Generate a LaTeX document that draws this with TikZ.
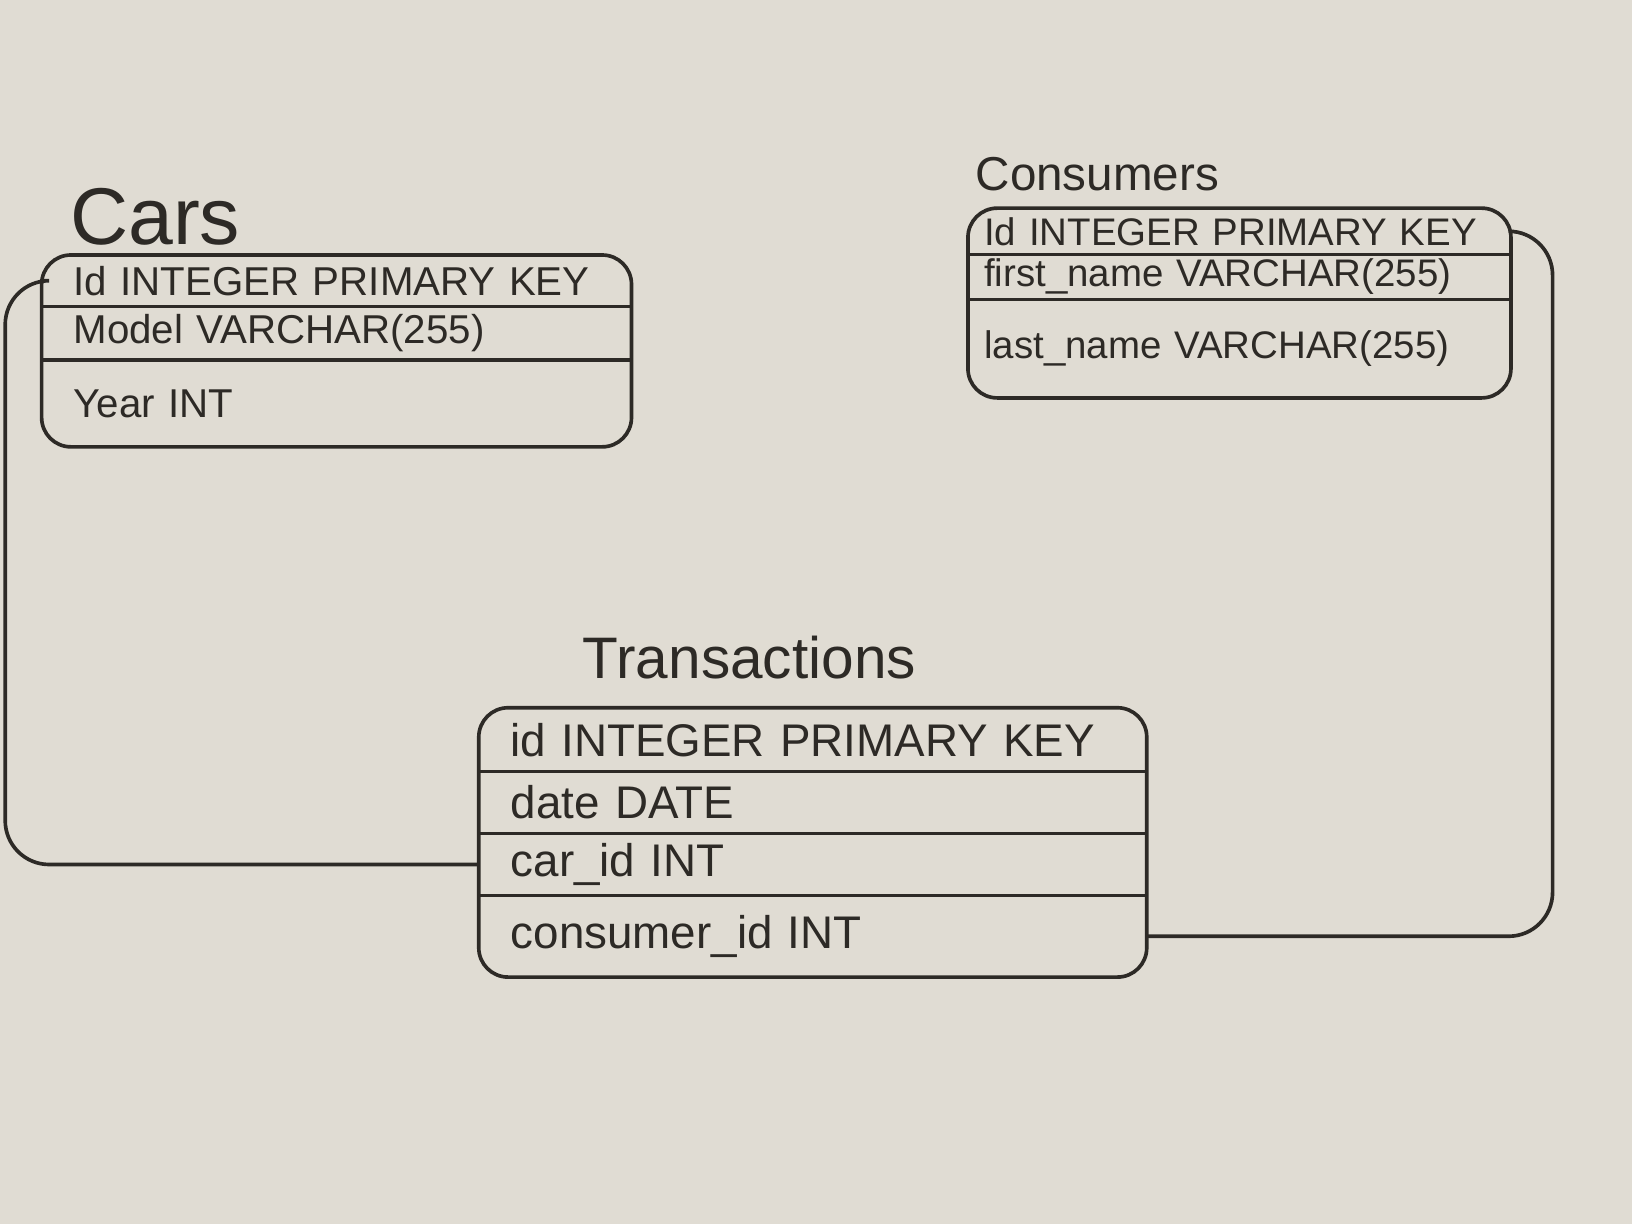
\documentclass[tikz,border=0pt]{standalone}
\usepackage{fontspec}
\setmainfont{Liberation Sans}
\usetikzlibrary{positioning,fit,calc}
\definecolor{paperGray}{RGB}{224,220,211}
\definecolor{inkGray}{RGB}{45,42,38}

\begin{document}
\begin{tikzpicture}[x=0.01cm, y=-0.01cm,
    tbl/.style={rectangle, rounded corners=8pt, draw=inkGray, line width=1pt, inner sep=0pt},
    fld/.style n args={2}{rectangle, text width=#1, inner xsep=3mm, inner ysep=0pt, align=left,
                font=\fontsize{#2}{#2}\selectfont, text=inkGray},
    ttl/.style={font=\fontsize{#1}{#1}\selectfont, text=inkGray},
    sep/.style={draw=inkGray, line width=0.9pt},
    lnk/.style={draw=inkGray, line width=1pt, rounded corners=12pt}
  ]
  \fill[paperGray] (0,0) rectangle (1568,1176);

  % Cars
  \node[ttl=22, anchor=west] (carsTitle) at (55,208) {Cars};
  \node[fld={5.05cm}{11}, minimum height=0.48cm, anchor=north west] (carsId) at (40,245) {Id INTEGER PRIMARY KEY};
  \node[fld={5.05cm}{11}, minimum height=0.50cm, below=0pt of carsId] (carsModel) {Model VARCHAR(255)};
  \node[fld={5.05cm}{11}, minimum height=0.82cm, below=0pt of carsModel] (carsYear) {Year INT};
  \node[tbl, fit=(carsId)(carsYear)] (cars) {};
  \draw[sep] (carsId.south west) -- (carsId.south east);
  \draw[sep] (carsModel.south west) -- (carsModel.south east);

  % Consumers
  \node[ttl=13, anchor=west] (consTitle) at (925,167) {Consumers};
  \node[fld={4.9cm}{10.5}, inner xsep=1.5mm, minimum height=0.43cm, anchor=north west] (consId) at (930,200) {Id INTEGER PRIMARY KEY};
  \node[fld={4.9cm}{10.5}, inner xsep=1.5mm, minimum height=0.42cm, below=0pt of consId] (consFirst) {first\_name VARCHAR(255)};
  \node[fld={4.9cm}{10.5}, inner xsep=1.5mm, minimum height=0.93cm, below=0pt of consFirst] (consLast) {last\_name VARCHAR(255)};
  \node[tbl, fit=(consId)(consLast)] (consumers) {};
  \draw[sep] (consId.south west) -- (consId.south east);
  \draw[sep] (consFirst.south west) -- (consFirst.south east);

  % Transactions
  \node[ttl=16] (transTitle) at (720,632) {Transactions};
  \node[fld={5.8cm}{12.5}, minimum height=0.60cm, anchor=north west] (transId) at (460,680) {id INTEGER PRIMARY KEY};
  \node[fld={5.8cm}{12.5}, minimum height=0.58cm, below=0pt of transId] (transDate) {date DATE};
  \node[fld={5.8cm}{12.5}, minimum height=0.58cm, below=0pt of transDate] (transCar) {car\_id INT};
  \node[fld={5.8cm}{12.5}, minimum height=0.77cm, below=0pt of transCar] (transCons) {consumer\_id INT};
  \node[tbl, fit=(transId)(transCons)] (transactions) {};
  \draw[sep] (transId.south west) -- (transId.south east);
  \draw[sep] (transDate.south west) -- (transDate.south east);
  \draw[sep] (transCar.south west) -- (transCar.south east);

  % links
  \draw[lnk] (carsId.west) -- ++(-35,0) |- (transCar.west);
  \draw[lnk] (consId.east) -- ++(40,0) |- (transCons.east);
\end{tikzpicture}
\end{document}
